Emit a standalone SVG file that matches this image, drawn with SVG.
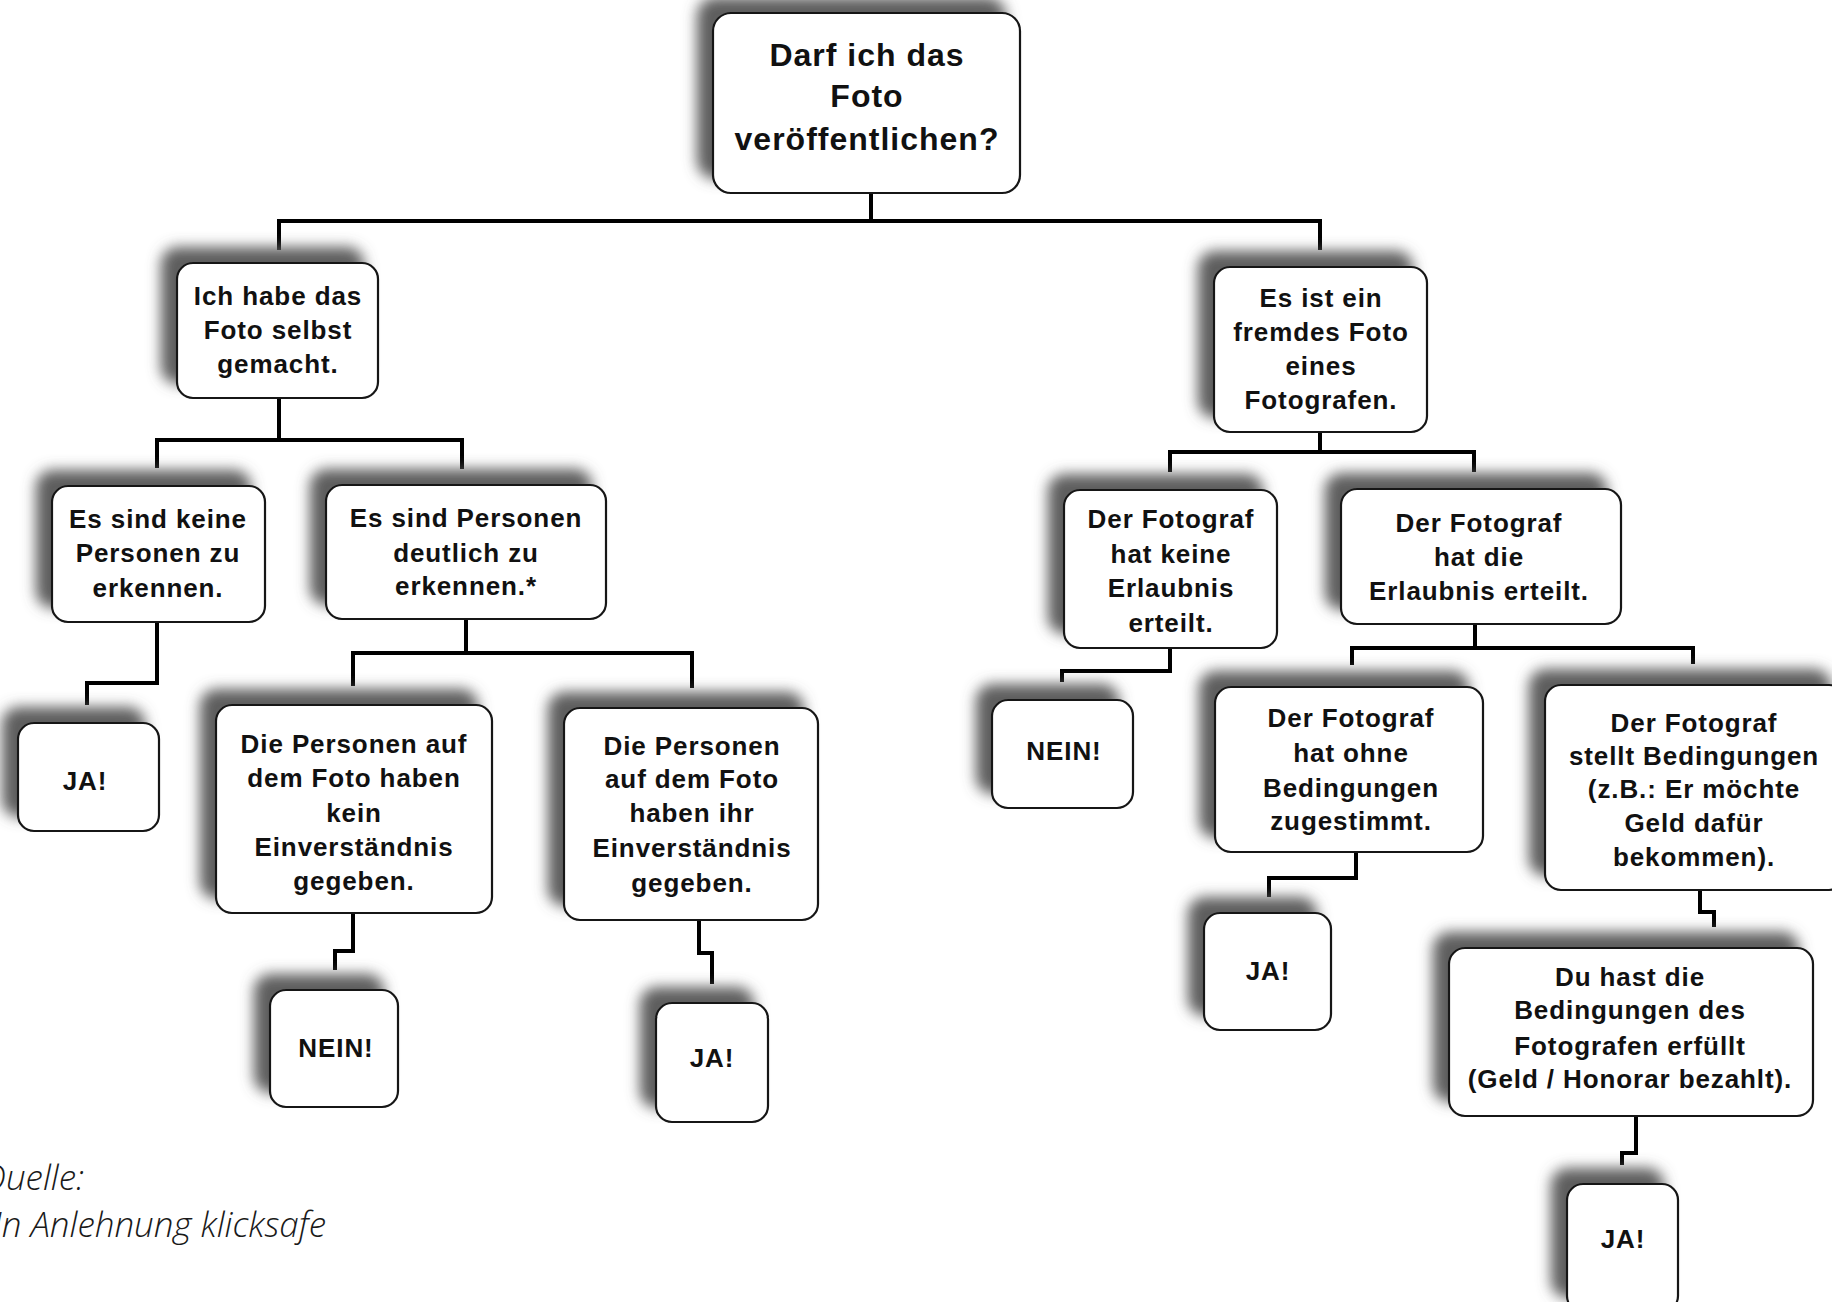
<svg xmlns="http://www.w3.org/2000/svg" width="1832" height="1302" viewBox="0 0 1832 1302">
  <defs>
    <filter id="shadow" x="-30%" y="-30%" width="160%" height="160%">
      <feGaussianBlur in="SourceAlpha" stdDeviation="7" result="b"/>
      <feOffset in="b" dx="-15" dy="-15" result="o"/>
      <feFlood flood-color="#5e5e5e" flood-opacity="1" result="c"/>
      <feComposite in="c" in2="o" operator="in" result="s"/>
      <feMerge><feMergeNode in="s"/><feMergeNode in="SourceGraphic"/></feMerge>
    </filter>
    <style>
      .box { fill: #ffffff; stroke: #151515; stroke-width: 2.2; filter: url(#shadow); }
      .t { font-family: "Liberation Sans", Arial, sans-serif; font-weight: bold; font-size: 26px; letter-spacing: 0.9px; fill: #111111; text-anchor: middle; }
      .big { font-size: 32px; letter-spacing: 1px; }
      .con { fill: none; stroke: #000000; stroke-width: 4; stroke-linejoin: miter; stroke-linecap: butt; }
      .src { font-family: "Open Sans", "Liberation Sans", sans-serif; font-style: italic; font-weight: 300; font-size: 35px; fill: #1a1a1a; text-anchor: end; }
    </style>
  </defs>
  <rect width="1832" height="1302" fill="#ffffff"/>

  <g id="connectors">
    <path class="con" d="M871,193 V221 M279,250 V221 H1320 V250"/>
    <path class="con" d="M279,398 V440 M157,468 V440 H462 V469"/>
    <path class="con" d="M157,622 V683 H87 V705"/>
    <path class="con" d="M466,619 V653 M353,686 V653 H692 V688"/>
    <path class="con" d="M353,913 V951 H335 V970"/>
    <path class="con" d="M699,920 V953 H712 V984"/>
    <path class="con" d="M1320,432 V452 M1170,472 V452 H1474 V472"/>
    <path class="con" d="M1170,648 V671 H1062 V682"/>
    <path class="con" d="M1475,624 V648 M1352,665 V648 H1693 V664"/>
    <path class="con" d="M1356,852 V878 H1269 V897"/>
    <path class="con" d="M1700,890 V912 H1714 V927"/>
    <path class="con" d="M1636,1116 V1153 H1622 V1165"/>
  </g>

  <g id="n-root">
    <rect class="box" x="713" y="13" width="307" height="180" rx="18"/>
    <text class="t big"><tspan x="867" y="66">Darf ich das</tspan><tspan x="867" y="107">Foto</tspan><tspan x="867" y="150">veröffentlichen?</tspan></text>
  </g>

  <g id="n-selbst">
    <rect class="box" x="177" y="263" width="201" height="135" rx="16"/>
    <text class="t"><tspan x="278" y="305">Ich habe das</tspan><tspan x="278" y="339">Foto selbst</tspan><tspan x="278" y="373">gemacht.</tspan></text>
  </g>

  <g id="n-keine-personen">
    <rect class="box" x="52" y="486" width="213" height="136" rx="16"/>
    <text class="t"><tspan x="158" y="528">Es sind keine</tspan><tspan x="158" y="562">Personen zu</tspan><tspan x="158" y="597">erkennen.</tspan></text>
  </g>

  <g id="n-ja-1">
    <rect class="box" x="18" y="723" width="141" height="108" rx="16"/>
    <text class="t"><tspan x="85" y="790">JA!</tspan></text>
  </g>

  <g id="n-personen">
    <rect class="box" x="326" y="485" width="280" height="134" rx="16"/>
    <text class="t"><tspan x="466" y="527">Es sind Personen</tspan><tspan x="466" y="562">deutlich zu</tspan><tspan x="466" y="595">erkennen.*</tspan></text>
  </g>

  <g id="n-kein-einverstaendnis">
    <rect class="box" x="216" y="705" width="276" height="208" rx="16"/>
    <text class="t"><tspan x="354" y="753">Die Personen auf</tspan><tspan x="354" y="787">dem Foto haben</tspan><tspan x="354" y="822">kein</tspan><tspan x="354" y="856">Einverständnis</tspan><tspan x="354" y="890">gegeben.</tspan></text>
  </g>

  <g id="n-nein-1">
    <rect class="box" x="270" y="990" width="128" height="117" rx="16"/>
    <text class="t"><tspan x="336" y="1057">NEIN!</tspan></text>
  </g>

  <g id="n-einverstaendnis">
    <rect class="box" x="564" y="708" width="254" height="212" rx="16"/>
    <text class="t"><tspan x="692" y="755">Die Personen</tspan><tspan x="692" y="788">auf dem Foto</tspan><tspan x="692" y="822">haben ihr</tspan><tspan x="692" y="857">Einverständnis</tspan><tspan x="692" y="892">gegeben.</tspan></text>
  </g>

  <g id="n-ja-2">
    <rect class="box" x="656" y="1003" width="112" height="119" rx="16"/>
    <text class="t"><tspan x="712" y="1067">JA!</tspan></text>
  </g>

  <g id="n-fremd">
    <rect class="box" x="1214" y="267" width="213" height="165" rx="16"/>
    <text class="t"><tspan x="1321" y="307">Es ist ein</tspan><tspan x="1321" y="341">fremdes Foto</tspan><tspan x="1321" y="375">eines</tspan><tspan x="1321" y="409">Fotografen.</tspan></text>
  </g>

  <g id="n-keine-erlaubnis">
    <rect class="box" x="1064" y="490" width="213" height="158" rx="16"/>
    <text class="t"><tspan x="1171" y="528">Der Fotograf</tspan><tspan x="1171" y="563">hat keine</tspan><tspan x="1171" y="597">Erlaubnis</tspan><tspan x="1171" y="632">erteilt.</tspan></text>
  </g>

  <g id="n-nein-2">
    <rect class="box" x="992" y="700" width="141" height="108" rx="16"/>
    <text class="t"><tspan x="1064" y="760">NEIN!</tspan></text>
  </g>

  <g id="n-erlaubnis">
    <rect class="box" x="1341" y="489" width="280" height="135" rx="16"/>
    <text class="t"><tspan x="1479" y="532">Der Fotograf</tspan><tspan x="1479" y="566">hat die</tspan><tspan x="1479" y="600">Erlaubnis erteilt.</tspan></text>
  </g>

  <g id="n-ohne-bedingungen">
    <rect class="box" x="1215" y="687" width="268" height="165" rx="16"/>
    <text class="t"><tspan x="1351" y="727">Der Fotograf</tspan><tspan x="1351" y="762">hat ohne</tspan><tspan x="1351" y="797">Bedingungen</tspan><tspan x="1351" y="830">zugestimmt.</tspan></text>
  </g>

  <g id="n-ja-3">
    <rect class="box" x="1204" y="913" width="127" height="117" rx="16"/>
    <text class="t"><tspan x="1268" y="980">JA!</tspan></text>
  </g>

  <g id="n-bedingungen">
    <rect class="box" x="1545" y="685" width="300" height="205" rx="16"/>
    <text class="t"><tspan x="1694" y="732">Der Fotograf</tspan><tspan x="1694" y="765">stellt Bedingungen</tspan><tspan x="1694" y="798">(z.B.: Er möchte</tspan><tspan x="1694" y="832">Geld dafür</tspan><tspan x="1694" y="866">bekommen).</tspan></text>
  </g>

  <g id="n-erfuellt">
    <rect class="box" x="1449" y="948" width="364" height="168" rx="16"/>
    <text class="t"><tspan x="1630" y="986">Du hast die</tspan><tspan x="1630" y="1019">Bedingungen des</tspan><tspan x="1630" y="1055">Fotografen erfüllt</tspan><tspan x="1630" y="1088">(Geld / Honorar bezahlt).</tspan></text>
  </g>

  <g id="n-ja-4">
    <rect class="box" x="1567" y="1184" width="111" height="128" rx="16"/>
    <text class="t"><tspan x="1623" y="1248">JA!</tspan></text>
  </g>

  <g id="source">
    <text class="src"><tspan x="84" y="1190">Quelle:</tspan><tspan x="326" y="1237">In Anlehnung klicksafe</tspan></text>
  </g>
</svg>
